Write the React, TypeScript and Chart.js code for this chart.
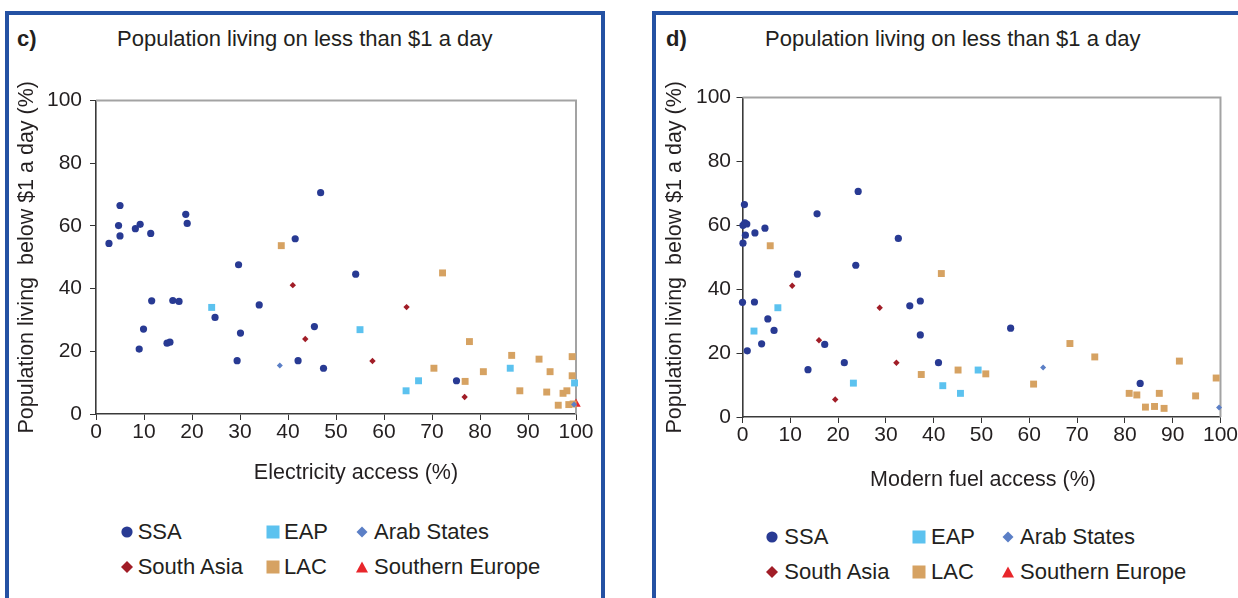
import React, { useEffect, useRef } from "react";
import { Chart, registerables } from "chart.js";

Chart.register(...registerables);

type Pt = [number, number];

// ---------- Data: panel c (electricity access % vs population below $1/day %) ----------
const ssaElec: Pt[] = [
  [5.0, 66.5], [4.7, 60.1], [5.0, 56.8], [2.7, 54.4], [8.2, 59.1], [9.2, 60.5],
  [11.4, 57.6], [18.7, 63.7], [19.0, 60.8], [46.8, 70.6], [41.5, 55.9], [29.7, 47.6],
  [11.6, 36.1], [16.0, 36.2], [17.3, 35.9], [34.0, 34.8], [24.8, 30.8], [9.9, 27.1],
  [30.1, 25.8], [45.5, 27.9], [9.0, 20.7], [14.8, 22.6], [15.4, 22.9], [29.4, 17.0],
  [42.1, 17.0], [47.4, 14.6], [54.1, 44.6], [75.1, 10.6],
];
const eapElec: Pt[] = [
  [24.1, 34.0], [55.0, 26.9], [64.6, 7.4], [67.2, 10.6], [86.3, 14.6], [99.7, 9.9],
];
const arabElec: Pt[] = [[38.3, 15.5], [99.6, 3.0]];
const southAsiaElec: Pt[] = [
  [41.0, 41.1], [43.6, 23.9], [64.7, 34.1], [57.6, 16.9], [76.8, 5.4],
];
const lacElec: Pt[] = [
  [38.6, 53.7], [72.2, 45.0], [77.8, 23.1], [86.6, 18.7], [92.3, 17.5], [99.2, 18.3],
  [70.4, 14.6], [80.7, 13.5], [94.6, 13.5], [99.2, 12.2], [76.9, 10.4], [88.3, 7.4],
  [93.9, 7.0], [97.3, 6.6], [98.1, 7.4], [96.3, 2.8], [98.5, 3.0], [99.4, 3.2],
];
const southEuropeElec: Pt[] = [[100, 3.2]];

// ---------- Data: panel d (modern fuel access % vs population below $1/day %) ----------
const ssaFuel: Pt[] = [
  [0.4, 66.5], [0.1, 60.0], [0.5, 60.8], [0.9, 60.4], [0.6, 56.9], [0.1, 54.4],
  [2.6, 57.6], [4.7, 59.1], [15.6, 63.6], [24.2, 70.6], [32.6, 55.9], [23.7, 47.5],
  [11.5, 44.7], [0.0, 35.9], [2.5, 36.0], [35.0, 34.8], [37.2, 36.3], [5.3, 30.7],
  [6.6, 27.1], [37.2, 25.7], [17.2, 22.7], [4.0, 22.9], [1.0, 20.7], [21.3, 17.0],
  [41.0, 17.0], [13.7, 14.8], [56.1, 27.8], [83.2, 10.5],
];
const eapFuel: Pt[] = [
  [7.4, 34.2], [2.4, 26.9], [23.2, 10.6], [41.9, 9.8], [45.6, 7.4], [49.3, 14.7],
];
const arabFuel: Pt[] = [[62.9, 15.5], [99.7, 3.0]];
const southAsiaFuel: Pt[] = [
  [10.4, 41.1], [28.7, 34.2], [16.0, 24.0], [32.2, 17.0], [19.4, 5.5],
];
const lacFuel: Pt[] = [
  [5.8, 53.6], [41.6, 44.9], [37.4, 13.3], [45.1, 14.7], [50.9, 13.5], [60.9, 10.3],
  [68.5, 23.0], [73.7, 18.8], [91.4, 17.5], [99.1, 12.2], [80.9, 7.4], [82.5, 6.9],
  [87.2, 7.4], [94.8, 6.6], [84.3, 3.1], [86.2, 3.3], [88.2, 2.7],
];
const southEuropeFuel: Pt[] = [];

// ---------- Labels ----------
const seriesNames = ["SSA", "EAP", "Arab States", "South Asia", "LAC", "Southern Europe"];
const panelLetters = ["c)", "d)"];
const chartTitle = "Population living on less than $1 a day";
const yAxisTitle = "Population living  below $1 a day (%)";
const xAxisTitles = ["Electricity access (%)", "Modern fuel access (%)"];
const xMin = 0, xMax = 100, xStep = 10;
const yMin = 0, yMax = 100, yStep = 20;

// ---------- Styles ----------
const FONT = "'Liberation Sans', Arial, sans-serif";
const TEXT = "#231f20";
const seriesColors = ["#283a93", "#5cc2ef", "#5b7fc6", "#a11d27", "#d6a262", "#e8262b"];
const seriesShapes = ["circle", "rect", "rectRot", "rectRot", "rect", "triangle"];
const seriesRadius = [3.6, 4.9, 3.0, 3.2, 4.9, 5.5];

type Geom = {
  left: number; top: number; w: number; h: number;
  padTop: number; padRight: number; yAxisW: number; xAxisH: number;
  yTitlePad: number; yTickPad: number; xTitleDx: number; xTitleY: number;
};

const geoms: Geom[] = [
  { left: 8, top: 56, w: 590, h: 444, padTop: 44.5, padRight: 22, yAxisW: 88, xAxisH: 86,
    yTitlePad: 6.4, yTickPad: 8, xTitleDx: 20, xTitleY: 417 },
  { left: 655, top: 56, w: 583, h: 444, padTop: 41.5, padRight: 14, yAxisW: 87.5, xAxisH: 83,
    yTitlePad: 7, yTickPad: 5.5, xTitleDx: 1.5, xTitleY: 424 },
];

const framePlugin = {
  id: "frame",
  beforeDatasetsDraw(chart: any) {
    const { ctx, chartArea: a } = chart;
    ctx.save();
    ctx.strokeStyle = "#a3a3a3";
    ctx.lineWidth = 2;
    ctx.beginPath();
    ctx.moveTo(a.left, a.top);
    ctx.lineTo(a.right, a.top);
    ctx.lineTo(a.right, a.bottom);
    ctx.stroke();
    ctx.restore();
  },
};

const xTitlePlugin = {
  id: "xTitle",
  afterDraw(chart: any, _args: any, opts: any) {
    const { ctx, chartArea: a } = chart;
    ctx.save();
    ctx.font = `21.5px ${FONT}`;
    ctx.fillStyle = TEXT;
    ctx.textAlign = "center";
    ctx.textBaseline = "middle";
    ctx.fillText(opts.text, (a.left + a.right) / 2 + opts.dx, opts.y);
    ctx.restore();
  },
};

function ScatterPanel({ series, g, xTitle }: { series: Pt[][]; g: Geom; xTitle: string }) {
  const ref = useRef<HTMLCanvasElement | null>(null);
  useEffect(() => {
    if (!ref.current) return;
    const chart = new Chart(ref.current, {
      type: "scatter",
      data: {
        datasets: series.map((pts, i) => ({
          label: seriesNames[i],
          data: pts.map(([x, y]) => ({ x, y })),
          pointStyle: seriesShapes[i] as any,
          pointRadius: seriesRadius[i],
          pointHoverRadius: seriesRadius[i],
          backgroundColor: seriesColors[i],
          borderColor: seriesColors[i],
          borderWidth: 0,
          clip: false as any,
        })),
      },
      options: {
        responsive: false,
        animation: false,
        events: [],
        layout: { autoPadding: false, padding: { left: 0, top: g.padTop, right: g.padRight, bottom: 0 } },
        plugins: {
          legend: { display: false },
          tooltip: { enabled: false },
          xTitle: { text: xTitle, dx: g.xTitleDx, y: g.xTitleY },
        } as any,
        scales: {
          x: {
            type: "linear",
            min: xMin,
            max: xMax,
            afterFit: (s: any) => { s.height = g.xAxisH; },
            ticks: { stepSize: xStep, padding: 0, color: TEXT, font: { family: FONT, size: 21 }, maxRotation: 0, autoSkip: false },
            grid: { drawOnChartArea: false, drawTicks: true, tickLength: 6, color: "#333", lineWidth: 1 },
            border: { display: true, color: "#3a3a3a", width: 1.6 },
            title: { display: false },
          },
          y: {
            type: "linear",
            min: yMin,
            max: yMax,
            afterFit: (s: any) => { s.width = g.yAxisW; },
            ticks: { stepSize: yStep, padding: g.yTickPad, color: TEXT, font: { family: FONT, size: 21 } },
            grid: { drawOnChartArea: false, drawTicks: true, tickLength: 6, color: "#333", lineWidth: 1 },
            border: { display: true, color: "#3a3a3a", width: 1.6 },
            title: {
              display: true,
              text: yAxisTitle,
              color: TEXT,
              font: { family: FONT, size: 21.5 },
              padding: { top: g.yTitlePad, bottom: 0 },
            },
          },
        },
      } as any,
      plugins: [framePlugin, xTitlePlugin],
    });
    return () => chart.destroy();
  }, []);
  return (
    <canvas
      ref={ref}
      width={g.w}
      height={g.h}
      style={{ position: "absolute", left: g.left, top: g.top, width: g.w, height: g.h }}
    />
  );
}

function Marker({ i }: { i: number }) {
  const c = seriesColors[i];
  const s = seriesShapes[i];
  let shape: React.ReactNode = null;
  if (s === "circle") shape = <circle cx={8} cy={8} r={5.6} fill={c} />;
  else if (s === "rect") shape = <rect x={1.5} y={1.5} width={13} height={13} fill={c} />;
  else if (s === "rectRot") {
    const r = i === 3 ? 6 : 5.5;
    shape = <polygon points={`${8 - r},8 8,${8 - r} ${8 + r},8 8,${8 + r}`} fill={c} />;
  } else if (s === "triangle") shape = <polygon points="8,2.5 14,13.5 2,13.5" fill={c} />;
  return (
    <svg width={16} height={16} style={{ display: "block" }}>
      {shape}
    </svg>
  );
}

const legendGeoms = [
  { markerX: [126.5, 272.7, 361.7], textX: [137.7, 284, 374], rowY: [531.7, 566.7] },
  { markerX: [771.5, 919, 1007.7], textX: [784.3, 931, 1020], rowY: [536.7, 571.7] },
];

function Legend({ p }: { p: number }) {
  const lg = legendGeoms[p];
  return (
    <>
      {seriesNames.map((name, i) => {
        const col = i % 3;
        const row = Math.floor(i / 3);
        const cy = lg.rowY[row];
        return (
          <React.Fragment key={name}>
            <div style={{ position: "absolute", left: lg.markerX[col] - 8, top: cy - 8 }}>
              <Marker i={i} />
            </div>
            <div
              style={{
                position: "absolute",
                left: lg.textX[col],
                top: cy - 13,
                height: 26,
                lineHeight: "26px",
                fontSize: 22,
                fontFamily: FONT,
                color: TEXT,
                whiteSpace: "nowrap",
              }}
            >
              {name}
            </div>
          </React.Fragment>
        );
      })}
    </>
  );
}

const boxes = [
  { left: 5, top: 11, width: 600 },
  { left: 652, top: 11, width: 640 },
];
const headerPos = [
  { letterX: 17, titleX: 117, cy: 38.5 },
  { letterX: 666, titleX: 765, cy: 38.5 },
];

export default function App() {
  const panels: Pt[][][] = [
    [ssaElec, eapElec, arabElec, southAsiaElec, lacElec, southEuropeElec],
    [ssaFuel, eapFuel, arabFuel, southAsiaFuel, lacFuel, southEuropeFuel],
  ];
  return (
    <div
      style={{
        position: "fixed",
        left: 0,
        top: 0,
        width: 1238,
        height: 598,
        overflow: "hidden",
        background: "#fff",
      }}
    >
      {panels.map((series, p) => (
        <React.Fragment key={p}>
          <div
            style={{
              position: "absolute",
              left: boxes[p].left,
              top: boxes[p].top,
              width: boxes[p].width,
              height: 640,
              border: "4px solid #2451a3",
              boxSizing: "border-box",
            }}
          />
          <div
            style={{
              position: "absolute",
              left: headerPos[p].letterX,
              top: headerPos[p].cy - 13,
              lineHeight: "26px",
              fontSize: 22,
              fontWeight: "bold",
              fontFamily: FONT,
              color: TEXT,
            }}
          >
            {panelLetters[p]}
          </div>
          <div
            style={{
              position: "absolute",
              left: headerPos[p].titleX,
              top: headerPos[p].cy - 13,
              lineHeight: "26px",
              fontSize: 22,
              fontFamily: FONT,
              color: TEXT,
              whiteSpace: "nowrap",
            }}
          >
            {chartTitle}
          </div>
          <ScatterPanel series={series} g={geoms[p]} xTitle={xAxisTitles[p]} />
          <Legend p={p} />
        </React.Fragment>
      ))}
    </div>
  );
}
